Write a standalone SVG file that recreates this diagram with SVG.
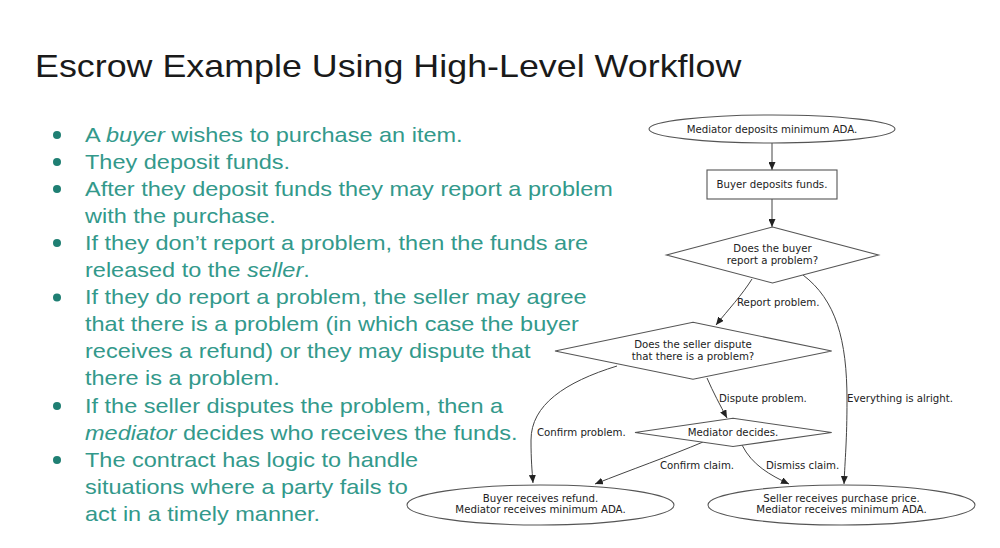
<svg xmlns="http://www.w3.org/2000/svg" width="1000" height="548" viewBox="0 0 1000 548">
<style>
.title{font-family:"Liberation Sans",Arial,sans-serif;font-size:32px;fill:#1a1a1a}
.bt{font-family:"Liberation Sans",Arial,sans-serif;font-size:21px;fill:#33998b}
.dot{fill:#1f7f73}
.shape{fill:#fff;stroke:#555;stroke-width:1.1}
.nt{font-family:"DejaVu Sans",Verdana,sans-serif;font-size:10.2px;fill:#222;text-anchor:middle}
.lt{font-family:"DejaVu Sans",Verdana,sans-serif;font-size:10.2px;fill:#222}
.edge{fill:none;stroke:#444;stroke-width:1}
</style>
<defs>
<marker id="arr" markerUnits="userSpaceOnUse" markerWidth="8" markerHeight="7" refX="8" refY="3.5" orient="auto">
<path d="M0,0 L8,3.5 L0,7 z" fill="#222"/>
</marker>
</defs>
<rect width="1000" height="548" fill="#fff"/>
<g transform="scale(1.12,1)">
<text class="title" x="31.25" y="77">Escrow Example Using High-Level Workflow</text>
<g class="bt">
<text x="75.9" y="142">A <tspan font-style="italic">buyer</tspan> wishes to purchase an item.</text>
<text x="75.9" y="169">They deposit funds.</text>
<text x="75.9" y="196">After they deposit funds they may report a problem</text>
<text x="75.9" y="223">with the purchase.</text>
<text x="75.9" y="250">If they don’t report a problem, then the funds are</text>
<text x="75.9" y="277">released to the <tspan font-style="italic">seller</tspan>.</text>
<text x="75.9" y="304.5">If they do report a problem, the seller may agree</text>
<text x="75.9" y="331.5">that there is a problem (in which case the buyer</text>
<text x="75.9" y="358.5">receives a refund) or they may dispute that</text>
<text x="75.9" y="385.5">there is a problem.</text>
<text x="75.9" y="413">If the seller disputes the problem, then a</text>
<text x="75.9" y="440"><tspan font-style="italic">mediator</tspan> decides who receives the funds.</text>
<text x="75.9" y="467">The contract has logic to handle</text>
<text x="75.9" y="494">situations where a party fails to</text>
<text x="75.9" y="521">act in a timely manner.</text>
</g>
</g>
<g class="dot">
<circle cx="57" cy="135" r="4"/>
<circle cx="57" cy="162" r="4"/>
<circle cx="57" cy="189" r="4"/>
<circle cx="57" cy="243" r="4"/>
<circle cx="57" cy="297.5" r="4"/>
<circle cx="57" cy="406" r="4"/>
<circle cx="57" cy="460" r="4"/>
</g>
<g id="connectors">
<path class="edge" d="M772,143 L772,170" marker-end="url(#arr)"/>
<path class="edge" d="M772,199 L772,227" marker-end="url(#arr)"/>
<path class="edge" d="M752,279 C742,295 728,310 716,325" marker-end="url(#arr)"/>
<path class="edge" d="M803,275 C836,300 847,340 847,400 C847,440 845,460 844,484" marker-end="url(#arr)"/>
<path class="edge" d="M707,378 C713,392 720,405 727,418" marker-end="url(#arr)"/>
<path class="edge" d="M617,366 C565,382 531,405 531,440 C531,460 532,470 533,483" marker-end="url(#arr)"/>
<path class="edge" d="M703,442 C670,456 630,470 595,484" marker-end="url(#arr)"/>
<path class="edge" d="M742,445 C752,465 770,475 789,484" marker-end="url(#arr)"/>
<text class="lt" x="737" y="305.5">Report problem.</text>
<text class="lt" x="847" y="401.5">Everything is alright.</text>
<text class="lt" x="719" y="402">Dispute problem.</text>
<text class="lt" x="537" y="436">Confirm problem.</text>
<text class="lt" x="660" y="468.5">Confirm claim.</text>
<text class="lt" x="766" y="468.5">Dismiss claim.</text>
</g>
<g id="n-mediator-deposits">
<ellipse class="shape" cx="772" cy="129" rx="123" ry="14"/>
<text class="nt" x="772" y="132.5">Mediator deposits minimum ADA.</text>
</g>
<g id="n-buyer-deposits">
<rect class="shape" x="707" y="170" width="130" height="29"/>
<text class="nt" x="772" y="188">Buyer deposits funds.</text>
</g>
<g id="n-buyer-report">
<polygon class="shape" points="772.5,227 878.5,255 772.5,283 666.5,255"/>
<text class="nt" x="772.5" y="251.8">Does the buyer</text>
<text class="nt" x="772.5" y="263.5">report a problem?</text>
</g>
<g id="n-seller-dispute">
<polygon class="shape" points="693,322.3 831.7,351 693,379.3 555,351"/>
<text class="nt" x="693" y="347.8">Does the seller dispute</text>
<text class="nt" x="693" y="359.5">that there is a problem?</text>
</g>
<g id="n-mediator-decides">
<polygon class="shape" points="733,418.3 831.7,432.5 733,446.5 635,432.5"/>
<text class="nt" x="733" y="436">Mediator decides.</text>
</g>
<g id="n-buyer-refund">
<ellipse class="shape" cx="540.5" cy="505" rx="133.5" ry="20"/>
<text class="nt" x="540.5" y="501.5">Buyer receives refund.</text>
<text class="nt" x="540.5" y="513">Mediator receives minimum ADA.</text>
</g>
<g id="n-seller-receives">
<ellipse class="shape" cx="841.5" cy="505" rx="133.5" ry="20"/>
<text class="nt" x="841.5" y="501.5">Seller receives purchase price.</text>
<text class="nt" x="841.5" y="513">Mediator receives minimum ADA.</text>
</g>
</svg>
